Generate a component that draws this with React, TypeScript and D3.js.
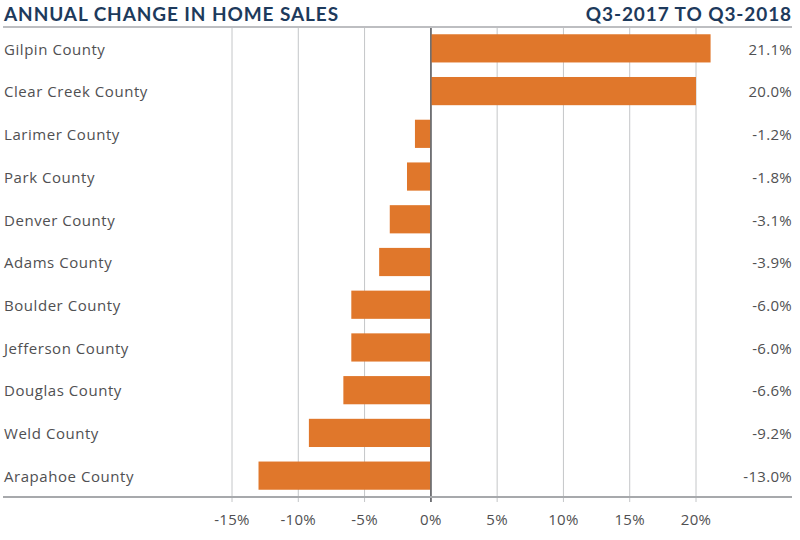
import {useEffect} from "react";
import * as d3 from "d3";

const counties = [
    "Gilpin County", "Clear Creek County", "Larimer County", "Park County", "Denver County",
    "Adams County", "Boulder County", "Jefferson County", "Douglas County", "Weld County", "Arapahoe County",
];
const changes = [21.1, 20.0, -1.2, -1.8, -3.1, -3.9, -6.0, -6.0, -6.6, -9.2, -13.0];
const ticks = [-15, -10, -5, 0, 5, 10, 15, 20];

const W = 800, H = 540;
const titleFont = "Lato, 'Open Sans', sans-serif";
const font = "'Open Sans', Lato, sans-serif";

const App = () => {
    useEffect(() => {
        document.body.style.margin = "0";
    }, []);

    const x = d3.scaleLinear().domain([-15, 20]).range([232, 696]);
    const y = d3.scaleBand<string>().domain(counties).range([27, 497]).paddingInner(0.34).paddingOuter(0.17);

    return (
        <svg width={W} height={H} style={{display: "block", background: "#fff"}}>
            <text x={4} y={21} fill="#1d3a5c" fontFamily={titleFont} fontWeight={700} fontSize={19} letterSpacing={0.9}>
                ANNUAL CHANGE IN HOME SALES
            </text>
            <text x={792} y={21} textAnchor="end" fill="#1d3a5c" fontFamily={titleFont} fontWeight={700} fontSize={19} letterSpacing={0.9}>
                Q3-2017 TO Q3-2018
            </text>
            <line x1={3} x2={792} y1={27} y2={27} stroke="#a7a9ac" strokeWidth={1.5}/>

            {ticks.map(t => (
                <line key={t} x1={x(t)} x2={x(t)} y1={28} y2={502}
                      stroke={t === 0 ? "#6d6e71" : "#c4c6c8"} strokeWidth={t === 0 ? 1.5 : 1}/>
            ))}

            {counties.map((c, i) => {
                const v = changes[i];
                const cy = y(c)! + y.bandwidth() / 2 + 1;
                return (
                    <g key={c}>
                        <rect x={Math.min(x(0), x(v))} y={y(c)} width={Math.abs(x(v) - x(0))} height={y.bandwidth()} fill="#e0772b"/>
                        <text x={4} y={cy} dy="0.35em" fill="#505052" fontFamily={font} fontSize={15} letterSpacing={0.55}>{c}</text>
                        <text x={792} y={cy} dy="0.35em" textAnchor="end" fill="#505052" fontFamily={font} fontSize={15} letterSpacing={0.3}>
                            {v.toFixed(1) + "%"}
                        </text>
                    </g>
                );
            })}
            <line x1={x(0)} x2={x(0)} y1={28} y2={502} stroke="#6d6e71" strokeWidth={1.5}/>

            <line x1={3} x2={792} y1={497} y2={497} stroke="#a7a9ac" strokeWidth={2}/>

            {ticks.map(t => (
                <text key={t} x={x(t)} y={525} textAnchor="middle" fill="#505052" fontFamily={font} fontSize={15} letterSpacing={0.3}>{t + "%"}</text>
            ))}
        </svg>
    );
};

export default App;
